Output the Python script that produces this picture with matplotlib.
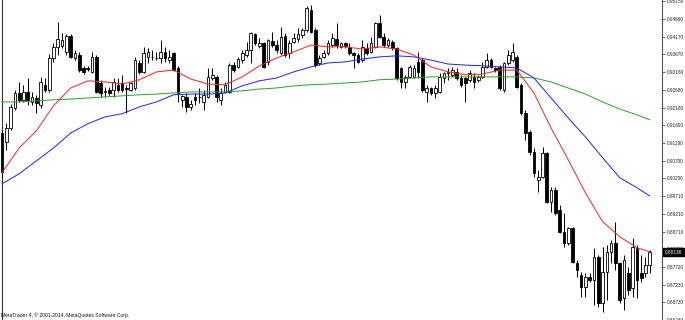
import matplotlib
matplotlib.use("Agg")
import matplotlib.pyplot as plt
import matplotlib.transforms as mtransforms
import numpy as np

# OHLC (one value per bar, left to right)
opens = [
    0.9147, 0.9122, 0.9161, 0.9217, 0.9259, 0.9240, 0.9262, 0.9234, 0.9245, 0.9226,
    0.9282, 0.9268, 0.9357, 0.9388, 0.9391, 0.9374, 0.9419, 0.9357, 0.9365, 0.9329,
    0.9329, 0.9318, 0.9360, 0.9287, 0.9262, 0.9268, 0.9268, 0.9282, 0.9287, 0.9273,
    0.9268, 0.9273, 0.9343, 0.9318, 0.9360, 0.9360, 0.9357, 0.9357, 0.9374, 0.9351,
    0.9371, 0.9329, 0.9240, 0.9248, 0.9220, 0.9248, 0.9248, 0.9234, 0.9248, 0.9301,
    0.9304, 0.9240, 0.9262, 0.9262, 0.9337, 0.9332, 0.9351, 0.9365, 0.9379, 0.9424,
    0.9391, 0.9399, 0.9346, 0.9405, 0.9393, 0.9371, 0.9419, 0.9371, 0.9402, 0.9410,
    0.9421, 0.9435, 0.9491, 0.9435, 0.9343, 0.9360, 0.9371, 0.9393, 0.9410, 0.9388,
    0.9399, 0.9388, 0.9371, 0.9365, 0.9351, 0.9385, 0.9374, 0.9388, 0.9455, 0.9416,
    0.9393, 0.9402, 0.9385, 0.9329, 0.9290, 0.9304, 0.9304, 0.9346, 0.9351, 0.9262,
    0.9273, 0.9259, 0.9262, 0.9301, 0.9315, 0.9310, 0.9318, 0.9301, 0.9301, 0.9296,
    0.9304, 0.9296, 0.9304, 0.9332, 0.9351, 0.9329, 0.9332, 0.9268, 0.9343, 0.9351,
    0.9360, 0.9282, 0.9203, 0.9150, 0.9094, 0.9016, 0.9024, 0.9092, 0.8955, 0.8988,
    0.8932, 0.8871, 0.8840, 0.8882, 0.8784, 0.8750, 0.8717, 0.8745, 0.8736, 0.8801,
    0.8672, 0.8759, 0.8815, 0.8840, 0.8784, 0.8686, 0.8756, 0.8714, 0.8826, 0.8756,
    0.8756, 0.8778,
]
highs = [
    0.9156, 0.9175, 0.9228, 0.9268, 0.9290, 0.9282, 0.9301, 0.9262, 0.9254, 0.9304,
    0.9301, 0.9368, 0.9399, 0.9458, 0.9427, 0.9424, 0.9424, 0.9379, 0.9374, 0.9335,
    0.9335, 0.9374, 0.9365, 0.9296, 0.9276, 0.9276, 0.9301, 0.9301, 0.9310, 0.9282,
    0.9290, 0.9360, 0.9351, 0.9388, 0.9385, 0.9379, 0.9374, 0.9407, 0.9388, 0.9379,
    0.9374, 0.9335, 0.9254, 0.9259, 0.9240, 0.9259, 0.9273, 0.9268, 0.9329, 0.9329,
    0.9310, 0.9273, 0.9290, 0.9343, 0.9346, 0.9360, 0.9379, 0.9402, 0.9430, 0.9427,
    0.9413, 0.9402, 0.9410, 0.9430, 0.9407, 0.9444, 0.9427, 0.9407, 0.9427, 0.9441,
    0.9441, 0.9502, 0.9505, 0.9441, 0.9365, 0.9379, 0.9407, 0.9427, 0.9455, 0.9402,
    0.9402, 0.9399, 0.9374, 0.9371, 0.9407, 0.9399, 0.9416, 0.9458, 0.9477, 0.9427,
    0.9413, 0.9407, 0.9388, 0.9332, 0.9310, 0.9337, 0.9337, 0.9374, 0.9357, 0.9282,
    0.9276, 0.9282, 0.9315, 0.9318, 0.9329, 0.9332, 0.9329, 0.9310, 0.9304, 0.9323,
    0.9315, 0.9310, 0.9346, 0.9371, 0.9357, 0.9332, 0.9337, 0.9346, 0.9379, 0.9399,
    0.9365, 0.9287, 0.9212, 0.9156, 0.9105, 0.9044, 0.9108, 0.9094, 0.8996, 0.8996,
    0.8946, 0.8924, 0.8885, 0.8885, 0.8792, 0.8759, 0.8756, 0.8756, 0.8826, 0.8806,
    0.8829, 0.8834, 0.8848, 0.8899, 0.8787, 0.8806, 0.8773, 0.8854, 0.8834, 0.8806,
    0.8801, 0.8820,
]
lows = [
    0.9022, 0.9100, 0.9156, 0.9212, 0.9234, 0.9234, 0.9226, 0.9226, 0.9203, 0.9217,
    0.9262, 0.9262, 0.9346, 0.9365, 0.9385, 0.9365, 0.9357, 0.9351, 0.9318, 0.9312,
    0.9321, 0.9315, 0.9259, 0.9248, 0.9248, 0.9254, 0.9248, 0.9262, 0.9262, 0.9203,
    0.9265, 0.9268, 0.9312, 0.9315, 0.9343, 0.9351, 0.9351, 0.9343, 0.9346, 0.9343,
    0.9321, 0.9234, 0.9220, 0.9206, 0.9212, 0.9226, 0.9231, 0.9212, 0.9245, 0.9296,
    0.9234, 0.9226, 0.9259, 0.9259, 0.9318, 0.9329, 0.9343, 0.9360, 0.9343, 0.9393,
    0.9385, 0.9329, 0.9337, 0.9388, 0.9371, 0.9365, 0.9360, 0.9357, 0.9399, 0.9402,
    0.9413, 0.9430, 0.9427, 0.9332, 0.9337, 0.9357, 0.9365, 0.9388, 0.9385, 0.9385,
    0.9385, 0.9365, 0.9329, 0.9343, 0.9346, 0.9365, 0.9371, 0.9385, 0.9413, 0.9388,
    0.9388, 0.9379, 0.9296, 0.9273, 0.9273, 0.9301, 0.9301, 0.9301, 0.9262, 0.9234,
    0.9254, 0.9245, 0.9259, 0.9287, 0.9296, 0.9304, 0.9296, 0.9276, 0.9234, 0.9290,
    0.9273, 0.9290, 0.9301, 0.9329, 0.9329, 0.9318, 0.9268, 0.9262, 0.9337, 0.9346,
    0.9273, 0.9198, 0.9128, 0.9086, 0.9024, 0.8982, 0.9022, 0.8952, 0.8927, 0.8918,
    0.8868, 0.8829, 0.8834, 0.8784, 0.8745, 0.8689, 0.8689, 0.8731, 0.8667, 0.8661,
    0.8647, 0.8681, 0.8784, 0.8764, 0.8672, 0.8653, 0.8695, 0.8689, 0.8686, 0.8731,
    0.8745, 0.8756,
]
closes = [
    0.9038, 0.9161, 0.9220, 0.9259, 0.9240, 0.9262, 0.9240, 0.9248, 0.9231, 0.9290,
    0.9268, 0.9357, 0.9388, 0.9410, 0.9407, 0.9419, 0.9360, 0.9371, 0.9323, 0.9318,
    0.9326, 0.9360, 0.9262, 0.9259, 0.9265, 0.9259, 0.9290, 0.9268, 0.9268, 0.9270,
    0.9287, 0.9351, 0.9318, 0.9371, 0.9374, 0.9359, 0.9358, 0.9374, 0.9357, 0.9360,
    0.9323, 0.9259, 0.9251, 0.9220, 0.9228, 0.9240, 0.9247, 0.9254, 0.9304, 0.9310,
    0.9248, 0.9259, 0.9282, 0.9337, 0.9323, 0.9354, 0.9371, 0.9379, 0.9427, 0.9399,
    0.9399, 0.9332, 0.9407, 0.9393, 0.9379, 0.9416, 0.9365, 0.9399, 0.9413, 0.9424,
    0.9435, 0.9497, 0.9430, 0.9337, 0.9357, 0.9371, 0.9399, 0.9413, 0.9393, 0.9399,
    0.9391, 0.9371, 0.9365, 0.9346, 0.9388, 0.9371, 0.9399, 0.9455, 0.9416, 0.9393,
    0.9407, 0.9385, 0.9301, 0.9290, 0.9304, 0.9332, 0.9329, 0.9318, 0.9268, 0.9273,
    0.9259, 0.9273, 0.9304, 0.9315, 0.9318, 0.9323, 0.9301, 0.9282, 0.9287, 0.9315,
    0.9290, 0.9304, 0.9332, 0.9351, 0.9332, 0.9323, 0.9273, 0.9343, 0.9365, 0.9374,
    0.9276, 0.9203, 0.9147, 0.9094, 0.9036, 0.9024, 0.9092, 0.8955, 0.8988, 0.8924,
    0.8871, 0.8840, 0.8882, 0.8787, 0.8764, 0.8717, 0.8745, 0.8736, 0.8801, 0.8672,
    0.8759, 0.8815, 0.8840, 0.8784, 0.8681, 0.8792, 0.8709, 0.8829, 0.8736, 0.8742,
    0.8778, 0.88136,
]

# moving averages, read every 4th bar
ma_idx = list(range(0, 149, 4)) + [151]
ma_red = [
    0.9036, 0.9105, 0.9153, 0.9223, 0.9273, 0.9293, 0.9290, 0.9284, 0.9296, 0.9318,
    0.9323, 0.9298, 0.9284, 0.9282, 0.9304, 0.9335, 0.9357, 0.9374, 0.9393, 0.9388,
    0.9388, 0.9382, 0.9388, 0.9382, 0.9365, 0.9332, 0.9318, 0.9310, 0.9312, 0.9323,
    0.9323, 0.9259, 0.9161, 0.9072, 0.8980, 0.8899, 0.8857, 0.8826, 0.8815,
]
ma_blue = [
    0.9005, 0.9033, 0.9069, 0.9105, 0.9147, 0.9173, 0.9192, 0.9201, 0.9220, 0.9234,
    0.9254, 0.9256, 0.9256, 0.9259, 0.9279, 0.9293, 0.9301, 0.9318, 0.9332, 0.9343,
    0.9346, 0.9354, 0.9360, 0.9363, 0.9360, 0.9351, 0.9340, 0.9337, 0.9335, 0.9332,
    0.9329, 0.9301, 0.9245, 0.9189, 0.9136, 0.9078, 0.9022, 0.8994, 0.8971,
]
ma_green = [
    0.9234, 0.9234, 0.9237, 0.9240, 0.9242, 0.9245, 0.9248, 0.9251, 0.9254, 0.9256,
    0.9259, 0.9262, 0.9262, 0.9262, 0.9265, 0.9270, 0.9273, 0.9279, 0.9282, 0.9284,
    0.9287, 0.9290, 0.9296, 0.9298, 0.9301, 0.9304, 0.9304, 0.9304, 0.9304, 0.9304,
    0.9304, 0.9301, 0.9290, 0.9273, 0.9256, 0.9234, 0.9214, 0.9198, 0.9184,
]

price_ticks = [0.95150, 0.94660, 0.94170, 0.93670, 0.93180, 0.92680, 0.92180, 0.91690,
               0.91190, 0.90700, 0.90200, 0.89710, 0.89210, 0.88710, 0.88220, 0.87720,
               0.87230, 0.86730, 0.86240]
last_price = 0.88136

fig = plt.figure(figsize=(6.85, 3.2), dpi=100)
ax = fig.add_axes([0, 0, 662 / 685, 1])

x = np.arange(len(opens))
o = np.array(opens); h = np.array(highs); l = np.array(lows); c = np.array(closes)
up = c >= o

# velas
ax.vlines(x, l, h, color="black", lw=0.7, zorder=2)
body_lo = np.minimum(o, c)
body_h = np.maximum(np.abs(c - o), 0.00006)
ax.bar(x[up], body_h[up], bottom=body_lo[up], width=0.62, color="white",
       edgecolor="black", linewidth=0.6, zorder=3)
ax.bar(x[~up], body_h[~up], bottom=body_lo[~up], width=0.62, color="black",
       edgecolor="black", linewidth=0.6, zorder=3)

# medias moviles
ax.plot(ma_idx, ma_green, color="#2e9e2e", lw=0.7, zorder=4)
ax.plot(ma_idx, ma_blue, color="#2020ff", lw=0.7, zorder=4)
ax.plot(ma_idx, ma_red, color="#ff2020", lw=0.7, zorder=4)

ax.axvline(0, color="#333333", lw=0.8, zorder=1)

ax.set_xlim(-0.47, 153.85)
ax.set_ylim(0.86247, 0.95191)
ax.set_xticks([])
for side in ["top", "left", "bottom"]:
    ax.spines[side].set_visible(False)
ax.spines["right"].set_color("#555555")
ax.spines["right"].set_linewidth(0.8)

ax.yaxis.tick_right()
ax.set_yticks(price_ticks)
ax.set_yticklabels([f"{p:.5f}" for p in price_ticks], fontsize=3.4,
                   family="Liberation Sans", color="#222222")
ax.tick_params(axis="y", direction="out", length=2.3, width=0.6, pad=1.0,
               color="#555555")

trans = mtransforms.blended_transform_factory(ax.transAxes, ax.transData)
ax.text(1.004, last_price, f"{last_price:.5f}", transform=trans, fontsize=3.4,
        family="Liberation Sans", color="white", va="center", ha="left", zorder=10,
        bbox=dict(boxstyle="square,pad=0.35", facecolor="black", edgecolor="black"),
        clip_on=False)

fig.text(0.002, 0.006, "MetaTrader 4, \u00a9 2001-2014, MetaQuotes Software Corp.",
         fontsize=3.6, family="Liberation Sans", color="#111111", ha="left", va="bottom")

fig.savefig("out.png", dpi=100, facecolor="white")
